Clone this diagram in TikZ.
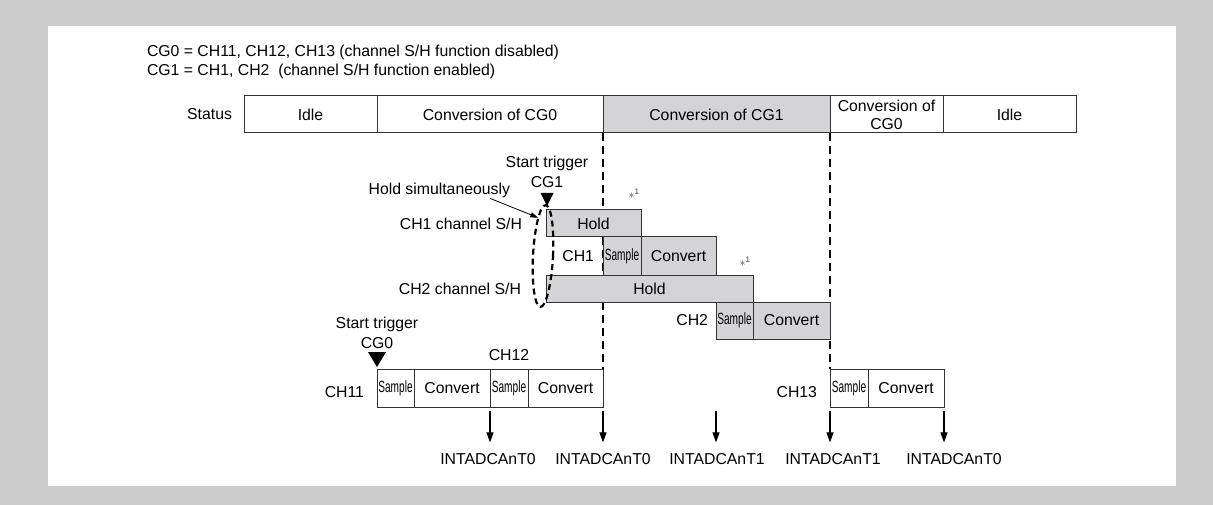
\documentclass[tikz,border=0pt]{standalone}
\usepackage{fontspec}
\setmainfont{Liberation Sans}
\usepackage{graphicx}
\usetikzlibrary{positioning,arrows.meta,backgrounds,shapes.geometric}

\definecolor{bggray}{RGB}{204,204,204}
\definecolor{boxgray}{RGB}{212,212,214}

\newcommand*{\smptext}{\scalebox{0.64}[1.03]{Sample}}
\newcommand*{\pagew}{1213}
\newcommand*{\pageh}{505}

\begin{document}
\begin{tikzpicture}
[
	x=1pt,y=-1pt,
	every node/.style={font=\fontsize{15.8}{18}\selectfont,inner sep=0pt,outer sep=0pt},
	seg/.style={draw=black!80,line width=1pt,minimum height=37pt,align=center},
	busy/.style={seg,fill=boxgray},
	holdbar/.style={busy,minimum height=27pt},
	cell/.style={seg,minimum height=38pt},
	vline/.style={line width=2.4pt,dash pattern=on 8pt off 5pt},
	ring/.style={ellipse,draw,line width=2.2pt,dash pattern=on 6pt off 4pt},
	irq/.style={-{Triangle[width=7pt,length=10pt]},line width=1.1pt},
	note/.style={font=\fontsize{12}{12}\selectfont,text=black!75}
]

	% panel
	\begin{scope}[on background layer]
		\fill[bggray] (0,0) rectangle (\pagew,\pageh);
		\fill[white] (48,26) rectangle (1176,486);
	\end{scope}
	\useasboundingbox (0,0) rectangle (\pagew,\pageh);

	% legend
	\node[anchor=west] (cgzero) at (147,52) {CG0 = CH11, CH12, CH13 (channel S/H function disabled)};
	\node[anchor=west] (cgone) at (147,71) {CG1 = CH1, CH2\ \ (channel S/H function enabled)};

	% status row
	\node[anchor=east] (status) at (232,114.5) {Status};
	\node[seg,minimum width=133pt,anchor=west] (idleA) at (244,114.5) {Idle};
	\node[seg,minimum width=226pt,right=0pt of idleA] (convA) {Conversion of CG0};
	\node[busy,minimum width=227pt,right=0pt of convA] (convB) {Conversion of CG1};
	\node[seg,minimum width=113pt,right=0pt of convB] (convC) {Conversion of\\CG0};
	\node[seg,minimum width=133pt,right=0pt of convC] (idleB) {Idle};

	% CG1: channel S/H
	\node[holdbar,minimum width=95pt,anchor=north west] (hold1) at (546,210) {Hold};
	\node[busy,cell,minimum width=38pt,anchor=north east] (smp1) at (hold1.south east) {\smptext};
	\node[busy,cell,minimum width=75pt,right=0pt of smp1] (cnv1) {Convert};
	\node[holdbar,minimum width=207pt,anchor=north west] (hold2) at (hold1.west |- cnv1.south) {Hold};
	\node[busy,minimum width=37pt,anchor=north east] (smp2) at (hold2.south east) {\smptext};
	\node[busy,minimum width=77pt,right=0pt of smp2] (cnv2) {Convert};

	\node[left=24pt of hold1] (sh1) {CH1 channel S/H};
	\node[left=25pt of hold2] (sh2) {CH2 channel S/H};
	\node[left=9pt of smp1] (ch1) {CH1};
	\node[left=8pt of smp2] (ch2) {CH2};

	% CG0: CH11, CH12, CH13
	\node[cell,minimum width=37pt,anchor=north west] (smp11) at (377,369) {\smptext};
	\node[cell,minimum width=76pt,right=0pt of smp11] (cnv11) {Convert};
	\node[cell,minimum width=38pt,right=0pt of cnv11] (smp12) {\smptext};
	\node[cell,minimum width=75pt,right=0pt of smp12] (cnv12) {Convert};
	\node[cell,minimum width=38pt,anchor=north west] (smp13) at (convC.west |- smp11.north) {\smptext};
	\node[cell,minimum width=76pt,right=0pt of smp13] (cnv13) {Convert};

	\node[left=13pt of smp11,yshift=-4pt] (ch11) {CH11};
	\node[above=8pt of smp12] (ch12) {CH12};
	\node[left=13pt of smp13,yshift=-4pt] (ch13) {CH13};

	% boundaries between the groups
	\begin{scope}[on background layer]
		\draw[vline] (convB.south west) -- (cnv12.north east);
		\draw[vline] (convC.south west) -- (smp13.north west);
	\end{scope}

	% start triggers
	\coordinate (tipzero) at ([yshift=2pt]smp11.north west);
	\fill (tipzero) -- ++(-9,-15) -- ++(18,0) -- cycle;
	\node[above=18pt of tipzero] (trgzero) {CG0};
	\node[above=6pt of trgzero] (stzero) {Start trigger};

	\coordinate (tipone) at ([xshift=1pt,yshift=4pt]hold1.north west);
	\fill (tipone) -- ++(-6.5,-13) -- ++(13,0) -- cycle;
	\node[above=18pt of tipone] (trgone) {CG1};
	\node[above=6pt of trgone] (stone) {Start trigger};

	% hold simultaneously
	\node[ring,minimum width=20pt,minimum height=102pt,rotate=-3] (simul) at (543,256) {};
	\node[anchor=east] (holdsim) at (510,190) {Hold simultaneously};
	\draw[-{Triangle[width=5pt,length=8pt]},line width=0.8pt] ([xshift=-20pt,yshift=-1pt]holdsim.south east) -- (simul.100);

	% notes
	\node[note] (astone) at (634,194) {$\ast$\textsuperscript{1}};
	\node[note] (asttwo) at (745,262) {$\ast$\textsuperscript{1}};

	% interrupt requests
	\node (int1) at (488,459) {INTADCAnT0};
	\node (int2) at (603,459) {INTADCAnT0};
	\node (int3) at (717,459) {INTADCAnT1};
	\node (int4) at (833,459) {INTADCAnT1};
	\node (int5) at (954,459) {INTADCAnT0};

	\coordinate (cgoneend) at (cnv1.south east |- cnv11.south);
	\foreach \src/\dst in {cnv11.south east/int1,cnv12.south east/int2,cgoneend/int3,smp13.south west/int4,cnv13.south east/int5}
		\draw[irq,shorten >=11pt] ([yshift=-4pt]\src) -- (\src |- \dst.north);

\end{tikzpicture}
\end{document}
